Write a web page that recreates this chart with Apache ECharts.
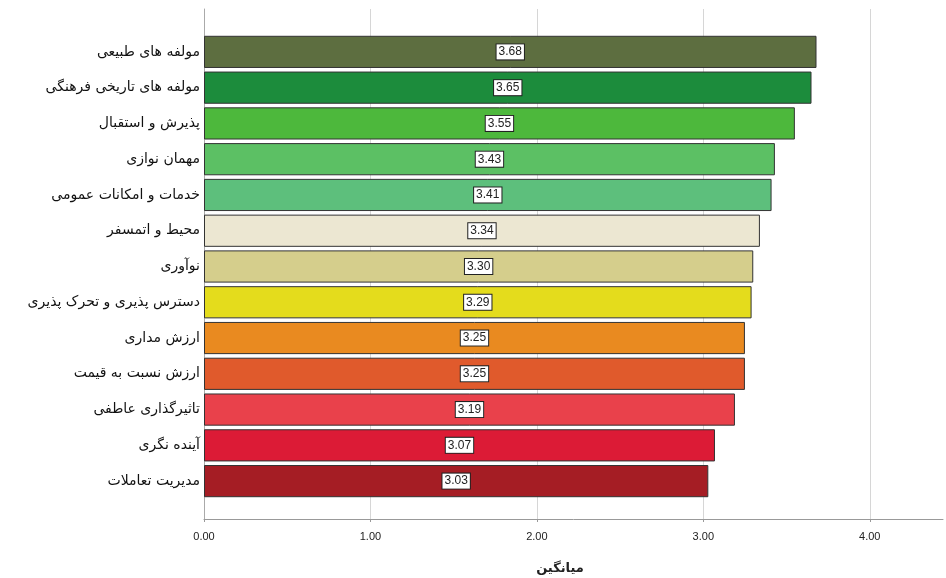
<!DOCTYPE html>
<html><head><meta charset="utf-8">
<script src="https://cdn.jsdelivr.net/npm/echarts@6/dist/echarts.min.js"></script>
<style>html,body{margin:0;padding:0;background:#fff}#c{width:946px;height:578px}</style>
</head><body><div id="c"></div>
<script>
const categories = [
  'مولفه های طبیعی',
  'مولفه های تاریخی فرهنگی',
  'پذیرش و استقبال',
  'مهمان نوازی',
  'خدمات و امکانات عمومی',
  'محیط و اتمسفر',
  'نوآوری',
  'دسترس پذیری و تحرک پذیری',
  'ارزش مداری',
  'ارزش نسبت به قیمت',
  'تاثیرگذاری عاطفی',
  'آینده نگری',
  'مدیریت تعاملات'
];
const values = [3.68, 3.65, 3.55, 3.43, 3.41, 3.34, 3.30, 3.29, 3.25, 3.25, 3.19, 3.07, 3.03];
const colors = ['#5d6e40', '#1c8c3c', '#4db83c', '#5cc064', '#5dbf7c', '#ece7d2', '#d5ce8c', '#e4dc1c', '#e98a20', '#e05a2c', '#e9414b', '#dc1b36', '#a51d24'];
const tickValues = [0, 1, 2, 3, 4];
const axisTitle = 'میانگین';
const xMax = 4.44;

const chart = echarts.init(document.getElementById('c'));
chart.setOption({
  animation: false,
  backgroundColor: '#fff',
  title: {
    text: axisTitle, left: 555, top: 557, textAlign: 'center',
    textStyle: {fontFamily: 'DejaVu Sans', fontSize: 13, fontWeight: 'bold', color: '#222'}
  },
  grid: [
    {left: 204, right: 3, top: 9, bottom: 59},
    {left: 204, right: 3, top: 34, bottom: 79}
  ],
  xAxis: [
    {
      gridIndex: 0, type: 'value', min: 0, max: xMax, interval: 1,
      axisLine: {show: true, lineStyle: {color: '#999', width: 1}},
      axisTick: {show: true, length: 3, customValues: tickValues, lineStyle: {color: '#999'}},
      axisLabel: {customValues: tickValues, formatter: v => v.toFixed(2), fontFamily: 'Liberation Sans', fontSize: 11, color: '#222', margin: 12},
      splitLine: {show: true, lineStyle: {color: '#d6d6d6', width: 1}}
    },
    {
      gridIndex: 1, type: 'value', min: 0, max: xMax, show: false
    }
  ],
  yAxis: [
    {
      gridIndex: 0, type: 'value', min: 0, max: 1,
      axisLine: {show: true, lineStyle: {color: '#aaa', width: 1}},
      axisTick: {show: false}, axisLabel: {show: false}, splitLine: {show: false}
    },
    {
      gridIndex: 1, type: 'category', data: categories, inverse: true,
      axisLine: {show: false}, axisTick: {show: false},
      axisLabel: {fontFamily: 'DejaVu Sans', fontSize: 14, color: '#111', margin: 4},
      splitLine: {show: false}
    }
  ],
  series: [
    {
      type: 'bar', xAxisIndex: 1, yAxisIndex: 1, data: values.map((v, i) => ({value: v, itemStyle: {color: colors[i]}})),
      barCategoryGap: '10%',
      itemStyle: {borderColor: '#333', borderWidth: 1},
      label: {
        show: true, position: 'inside', formatter: p => p.value.toFixed(2),
        fontFamily: 'Liberation Sans', fontSize: 12, color: '#222',
        backgroundColor: '#fff', borderColor: '#222', borderWidth: 1, padding: [2, 2, 1, 2]
      }
    }
  ]
});
</script></body></html>
